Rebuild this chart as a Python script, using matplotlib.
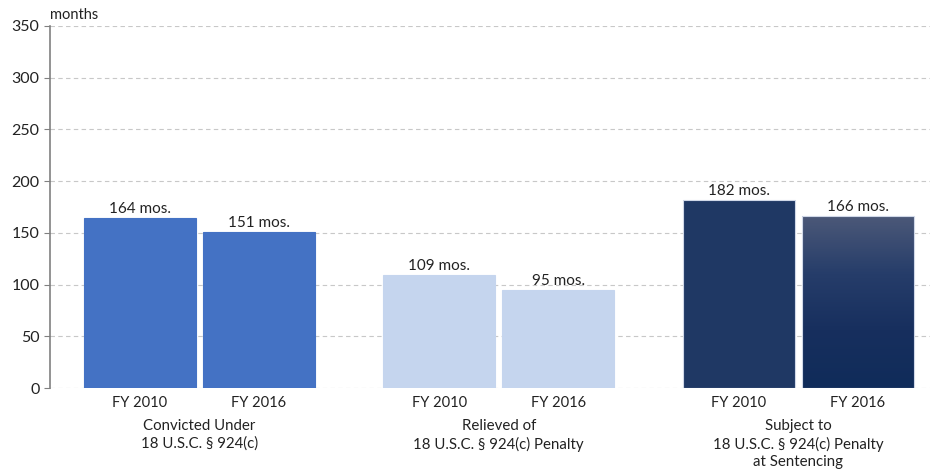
import numpy as np
import matplotlib.pyplot as plt
from matplotlib.colors import LinearSegmentedColormap

plt.rcParams['font.family'] = ['Lato', 'DejaVu Sans']

# data
groups = ["Convicted Under\n18 U.S.C. § 924(c)",
          "Relieved of\n18 U.S.C. § 924(c) Penalty",
          "Subject to\n18 U.S.C. § 924(c) Penalty\nat Sentencing"]
years = ["FY 2010", "FY 2016"]
fy2010 = [164, 109, 182]
fy2016 = [151, 95, 166]
colors = [("#4472c4", "#4472c4"), ("#c5d5ee", "#c5d5ee"), ("#1f3864", None)]

fig = plt.figure(figsize=(9.35, 4.71), dpi=100)
ax = fig.add_axes([0.0535, 0.176, 0.9415, 0.769])

centers = np.arange(len(groups)) * 3.0
width = 1.12
off = 0.595

grad = LinearSegmentedColormap.from_list("g", ["#4b5878", "#263d6a", "#172f5e", "#102c5a"])

for i, c in enumerate(centers):
    for j, (val, x) in enumerate([(fy2010[i], c - off), (fy2016[i], c + off)]):
        col = colors[i][j]
        edge = "#d0d8e8" if i == 2 else col
        if col is None:
            b = ax.bar(x, val, width, color="none", edgecolor=edge, lw=0.8, zorder=3)[0]
            img = ax.imshow(np.linspace(0, 1, 100).reshape(-1, 1), cmap=grad, aspect='auto',
                            extent=[x - width / 2, x + width / 2, 0, val], origin='upper', zorder=2)
            img.set_clip_path(b)
        else:
            ax.bar(x, val, width, color=col, edgecolor=edge, lw=0.8, zorder=2)
        ax.annotate(f"{val} mos.", (x, val), xytext=(0, 1.5), textcoords="offset points",
                    ha="center", va="bottom", fontsize=11, color="#222222")
        ax.text(x, -8, years[j], ha="center", va="top", fontsize=10.5, color="#222222")
    ax.text(c, -30, groups[i], ha="center", va="top", fontsize=10.8, color="#222222",
            linespacing=1.3)

ax.set_xlim(-1.495, 7.323)
ax.set_ylim(0, 350)
ax.set_yticks(np.arange(0, 351, 50))
ax.set_xticks([])
ax.tick_params(axis='y', labelsize=11.5, colors="#222222", length=4, color="#808080")
ax.grid(axis='y', linestyle=(0, (4, 3)), color="#c8c8c8", lw=0.8, zorder=0)
ax.set_axisbelow(True)
for s in ["top", "right", "bottom"]:
    ax.spines[s].set_visible(False)
ax.spines["left"].set_color("#808080")
ax.spines["left"].set_linewidth(1.2)
ax.text(0, 1.01, "months", transform=ax.transAxes, fontsize=10.5, va="bottom", ha="left",
        color="#222222")

fig.savefig("out.png", dpi=100)
